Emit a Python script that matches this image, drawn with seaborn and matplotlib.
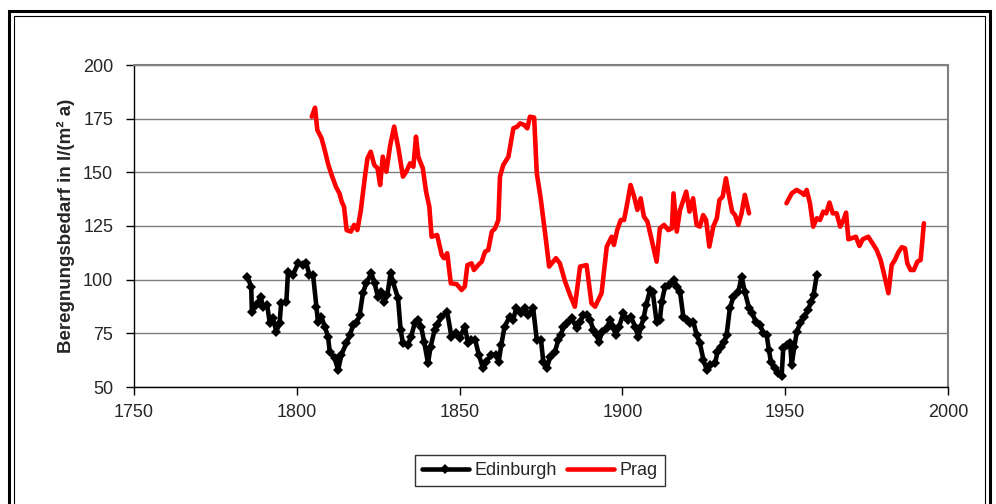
import matplotlib
matplotlib.use("Agg")
import matplotlib.pyplot as plt
import matplotlib.patches as mpatches
from matplotlib.lines import Line2D
import seaborn as sns
import pandas as pd
import numpy as np

# ---------------- data ----------------
edin_years = [1784.8, 1786.0, 1786.2, 1787.6, 1788.9, 1789.6, 1790.9, 1791.7, 1792.7, 1793.7,
              1794.7, 1795.2, 1796.8, 1797.3, 1798.8, 1800.4, 1801.9, 1802.9, 1803.9, 1805.0,
              1806.0, 1806.5, 1807.5, 1808.6, 1809.6, 1810.1, 1811.6, 1812.7, 1813.7, 1815.2,
              1816.3, 1817.3, 1818.3, 1819.3, 1820.3, 1821.3, 1822.9, 1823.9, 1824.9, 1825.9,
              1826.8, 1827.8, 1828.8, 1829.5, 1831.1, 1831.9, 1832.6, 1834.1, 1835.1, 1836.2,
              1837.2, 1838.2, 1839.1, 1840.3, 1841.1, 1842.3, 1843.1, 1844.4, 1846.2, 1847.5,
              1849.0, 1850.0, 1851.6, 1852.6, 1853.6, 1854.8, 1855.9, 1857.2, 1858.2, 1859.7,
              1861.3, 1862.0, 1862.8, 1863.8, 1865.4, 1866.4, 1867.4, 1868.8, 1870.0, 1871.1,
              1872.6, 1873.7, 1875.0, 1875.7, 1876.8, 1877.8, 1879.3, 1880.3, 1881.1, 1881.9,
              1882.9, 1884.4, 1886.0, 1887.0, 1888.0, 1889.0, 1890.1, 1891.1, 1892.1, 1892.8,
              1893.8, 1895.2, 1896.2, 1897.2, 1897.9, 1899.0, 1900.3, 1901.6, 1902.6, 1903.9,
              1904.9, 1905.7, 1906.5, 1907.3, 1908.5, 1909.3, 1910.5, 1911.5, 1912.1, 1913.1,
              1914.4, 1915.7, 1916.7, 1917.7, 1918.7, 1919.8, 1920.8, 1921.8, 1922.8, 1923.8,
              1924.9, 1925.9, 1926.9, 1928.5, 1929.2, 1930.3, 1931.3, 1932.0, 1933.0, 1934.1,
              1935.6, 1936.6, 1937.6, 1938.9, 1939.9, 1940.9, 1942.3, 1943.3, 1944.3, 1945.0,
              1945.6, 1946.8, 1947.9, 1948.9, 1949.4, 1950.4, 1951.5, 1952.0, 1952.8, 1953.6,
              1954.6, 1955.9, 1957.0, 1958.0, 1958.7, 1959.7]
edin_values = [101.4, 96.7, 85.1, 88.2, 92.1, 87.4, 88.2, 79.7, 82.0, 75.8,
               79.7, 89.0, 89.8, 103.7, 102.2, 107.6, 106.8, 107.6, 102.2, 102.2,
               87.4, 80.4, 82.8, 78.1, 73.4, 66.5, 63.4, 57.9, 65.0, 70.4,
               74.2, 78.9, 79.7, 83.4, 93.7, 98.3, 103.0, 98.3, 92.1, 94.4,
               89.8, 92.9, 103.0, 99.1, 91.3, 76.4, 70.4, 69.6, 73.4, 79.7,
               81.2, 78.1, 71.1, 61.1, 68.8, 76.4, 78.9, 82.8, 84.8, 73.4,
               75.0, 72.8, 78.1, 70.4, 71.9, 71.9, 65.0, 58.7, 61.8, 65.0,
               65.0, 61.8, 69.6, 78.1, 82.8, 81.2, 86.7, 84.4, 86.7, 83.6,
               86.7, 71.9, 71.9, 61.8, 58.7, 64.2, 66.5, 71.9, 74.2, 78.1,
               79.7, 82.0, 77.4, 80.4, 83.6, 83.6, 81.2, 76.6, 74.2, 71.1,
               75.8, 77.4, 81.2, 78.1, 74.2, 78.1, 84.4, 81.2, 82.8, 78.1,
               73.4, 78.1, 82.0, 88.2, 95.2, 94.4, 80.4, 81.2, 89.8, 96.8,
               97.5, 99.9, 96.8, 94.4, 82.8, 81.2, 79.7, 80.4, 74.2, 70.4,
               62.6, 57.9, 60.3, 61.1, 66.5, 68.8, 71.1, 74.2, 86.7, 92.1,
               94.4, 101.4, 94.4, 86.7, 84.4, 80.4, 78.9, 75.0, 74.2, 67.3,
               61.8, 58.7, 56.4, 54.9, 68.0, 69.6, 70.4, 60.3, 68.8, 75.8,
               79.7, 82.8, 85.9, 89.8, 92.9, 102.2]

prag_years_1 = [1804.6, 1805.6, 1806.3, 1807.6, 1808.7, 1809.7, 1810.7, 1812.0, 1813.1, 1813.8,
                1814.5, 1815.3, 1816.6, 1817.6, 1818.6, 1819.6, 1821.0, 1821.7, 1822.7, 1823.8,
                1824.8, 1825.6, 1826.4, 1827.5, 1828.7, 1829.9, 1831.2, 1832.6, 1833.6, 1834.8,
                1835.8, 1836.6, 1837.3, 1838.7, 1839.7, 1840.7, 1841.4, 1843.1, 1844.5, 1845.2,
                1846.2, 1847.3, 1849.1, 1850.6, 1851.6, 1852.4, 1853.7, 1854.4, 1855.7, 1856.8,
                1857.8, 1858.8, 1859.9, 1860.9, 1861.9, 1862.4, 1863.4, 1865.0, 1866.5, 1867.7,
                1868.6, 1869.8, 1870.8, 1871.6, 1872.9, 1873.7, 1874.9, 1876.2, 1877.5, 1879.6,
                1880.8, 1882.4, 1883.9, 1885.4, 1887.0, 1889.0, 1890.5, 1891.6, 1893.6, 1895.2,
                1896.7, 1897.4, 1898.4, 1899.5, 1900.5, 1901.3, 1902.5, 1903.6, 1904.6, 1905.6,
                1906.6, 1907.7, 1909.0, 1910.5, 1911.5, 1912.8, 1914.1, 1915.2, 1915.7, 1916.7,
                1917.7, 1919.6, 1920.6, 1921.7, 1922.8, 1923.8, 1924.8, 1925.7, 1926.7, 1927.9,
                1929.0, 1929.8, 1930.8, 1931.8, 1932.8, 1933.7, 1934.6, 1935.6, 1936.6, 1937.6,
                1938.9]
prag_values_1 = [175.9, 180.1, 169.7, 165.9, 159.6, 153.4, 148.8, 143.3, 140.2, 136.3,
                 134.0, 123.1, 122.4, 125.5, 123.1, 131.7, 148.8, 156.5, 159.6, 153.4,
                 151.9, 144.1, 157.3, 150.3, 162.7, 171.3, 161.2, 148.0, 150.3, 154.2,
                 152.6, 166.6, 157.3, 151.9, 141.0, 134.0, 120.0, 120.8, 111.5, 110.0,
                 112.3, 98.3, 97.9, 95.2, 96.8, 106.8, 107.6, 104.5, 106.8, 108.4,
                 113.0, 113.8, 122.4, 123.9, 127.8, 148.0, 153.4, 157.3, 170.5, 171.3,
                 172.8, 172.1, 170.5, 175.9, 175.5, 149.6, 137.9, 122.4, 106.1, 110.0,
                 107.6, 99.1, 92.9, 87.4, 106.1, 106.8, 89.0, 87.4, 93.7, 115.4,
                 120.0, 116.2, 123.1, 127.8, 127.8, 134.0, 144.1, 138.7, 132.5, 137.9,
                 129.4, 127.0, 118.5, 108.4, 123.9, 125.5, 123.1, 123.9, 140.2, 122.4,
                 132.5, 141.0, 131.7, 137.9, 125.5, 124.7, 130.1, 127.8, 115.4, 124.7,
                 128.6, 137.1, 138.7, 147.2, 138.7, 131.7, 130.1, 125.5, 130.9, 139.5,
                 130.9]

prag_years_2 = [1950.4, 1952.0, 1953.5, 1955.0, 1955.8, 1956.6, 1957.6, 1958.6, 1959.7, 1960.7,
                1961.7, 1962.6, 1963.6, 1964.6, 1965.8, 1966.9, 1967.9, 1968.7, 1969.4, 1970.4,
                1971.7, 1972.8, 1973.8, 1975.5, 1976.8, 1978.1, 1979.3, 1980.3, 1981.7, 1982.7,
                1983.7, 1984.7, 1985.8, 1986.8, 1987.5, 1988.5, 1989.5, 1990.6, 1991.6, 1992.6]
prag_values_2 = [135.6, 140.2, 141.8, 140.5, 139.5, 141.8, 135.6, 124.7, 128.6, 127.8,
                 131.7, 130.9, 135.9, 130.9, 130.9, 124.7, 127.8, 131.2, 118.8, 119.3,
                 120.0, 115.7, 118.8, 120.0, 117.0, 113.8, 109.2, 103.0, 93.7, 106.8,
                 109.2, 112.6, 115.1, 114.6, 107.6, 104.5, 104.5, 108.4, 109.2, 126.3]

series_names = ["Edinburgh", "Prag"]
x_ticks = [1750, 1800, 1850, 1900, 1950, 2000]
y_ticks = [50, 75, 100, 125, 150, 175, 200]
y_label = "Beregnungsbedarf in l/(m² a)"

# ---------------- build tables ----------------
df_edin = pd.DataFrame({"Jahr": edin_years, "Wert": edin_values})
df_prag = pd.concat([
    pd.DataFrame({"Jahr": prag_years_1, "Wert": prag_values_1, "seg": 1}),
    pd.DataFrame({"Jahr": prag_years_2, "Wert": prag_values_2, "seg": 2}),
], ignore_index=True)

# ---------------- figure ----------------
sns.set_style("white")
plt.rcParams["font.family"] = ["Liberation Sans", "DejaVu Sans"]

fig = plt.figure(figsize=(9.96, 5.04), dpi=100)
W, H = 996, 504
ax = fig.add_axes([134 / W, 1 - 387 / H, (948 - 134) / W, (387 - 65) / H])

grid_col = "#7f7f7f"
for v in y_ticks:
    ax.axhline(v, color=grid_col, lw=1.0, zorder=0)

ed_lw, ed_ms = 3.3, 5.5
pr_lw = 3.3
sns.lineplot(data=df_prag, x="Jahr", y="Wert", units="seg", estimator=None,
             color="#ff0000", lw=pr_lw, ax=ax, zorder=3, legend=False)
sns.lineplot(data=df_edin, x="Jahr", y="Wert", color="black", lw=ed_lw,
             marker="D", markersize=ed_ms, markeredgewidth=0, ax=ax, zorder=4,
             legend=False)

ax.set_xlim(1750, 2000)
ax.set_ylim(50, 200)
ax.set_xticks(x_ticks)
ax.set_yticks(y_ticks)
ax.set_xticklabels([str(t) for t in x_ticks], fontsize=13)
ax.set_yticklabels([str(t) for t in y_ticks], fontsize=13)
ax.set_xlabel("")
ax.set_ylabel(y_label, fontsize=13.5, fontweight="bold", labelpad=6)

ax.tick_params(axis="both", direction="out", length=6, width=1, color="black",
               bottom=True, left=True)
ax.tick_params(axis="y", pad=9)
ax.tick_params(axis="x", pad=6)
for side in ["left", "bottom"]:
    ax.spines[side].set_color("black")
    ax.spines[side].set_linewidth(1.0)
for side in ["top", "right"]:
    ax.spines[side].set_color(grid_col)
    ax.spines[side].set_linewidth(1.5)

handles = [
    Line2D([], [], color="black", lw=ed_lw, marker="D", markersize=ed_ms, markeredgewidth=0),
    Line2D([], [], color="#ff0000", lw=pr_lw),
]
leg = ax.legend(handles, series_names, loc="center", bbox_to_anchor=(540 / W, 1 - 470.5 / H),
                bbox_transform=fig.transFigure, ncol=2, fontsize=13, frameon=True,
                fancybox=False, edgecolor="black", handlelength=2.6, handletextpad=0.33,
                columnspacing=0.55, borderpad=0.4, borderaxespad=0)
leg.get_frame().set_linewidth(1.0)

# double outer frame (bottom edge lies outside the picture)
fig.patches.append(mpatches.Rectangle((9 / W, 1 - 520 / H), (990 - 9) / W, (520 - 11) / H,
                                      transform=fig.transFigure, fill=False,
                                      edgecolor="black", lw=2.2))
fig.patches.append(mpatches.Rectangle((14 / W, 1 - 515 / H), (985 - 14) / W, (515 - 16) / H,
                                      transform=fig.transFigure, fill=False,
                                      edgecolor="black", lw=0.8))

fig.savefig("out.png", dpi=100)
